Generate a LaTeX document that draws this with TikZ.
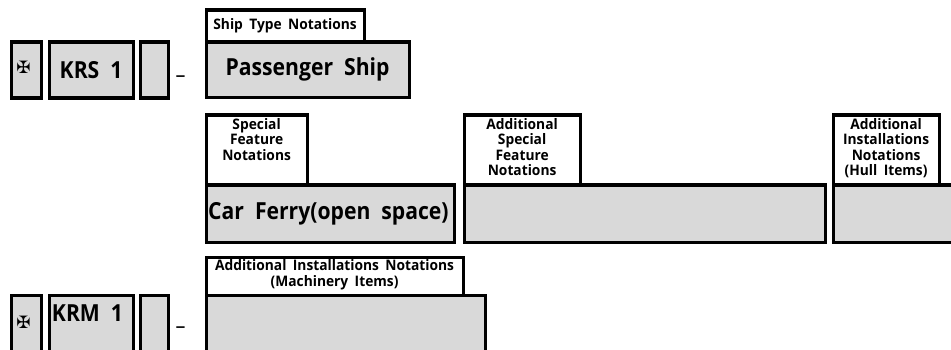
\documentclass[tikz,border=0pt]{standalone}
\usepackage{fontspec}
\newfontfamily\bigfont{Open Sans}[FakeStretch=0.9,WordSpace=2]
\newfontfamily\smallfont{Open Sans}[FakeStretch=0.95,WordSpace=1.8]
\newfontfamily\symfont{DejaVu Sans}
\newcommand\labelfontset{\smallfont\fontsize{14.5}{15.4}\selectfont\bfseries\lineskiplimit=-20pt\relax}
\definecolor{boxgray}{RGB}{217,217,217}
\begin{document}
\begin{tikzpicture}[x=1pt,y=-1pt,
  box/.style={draw=black, line width=3.2pt, fill=boxgray, rectangle, inner sep=0pt, anchor=north west},
  labbox/.style={draw=black, line width=3.2pt, fill=white, rectangle, inner sep=0pt, anchor=north west},
  big/.style={font=\bigfont\fontsize{23.5}{26}\selectfont\bfseries, inner sep=0pt},
  small/.style={font=\labelfontset, align=center, inner sep=0pt},
  sym/.style={font=\symfont\fontsize{17}{17}\selectfont, inner sep=0pt},
  dashmark/.style={font=\bigfont\fontsize{22}{22}\selectfont, inner sep=0pt}]
\useasboundingbox (0,0) rectangle (951,350);
\clip (0,0) rectangle (951,350);
% row 1
\node[box, minimum width=30pt, minimum height=56pt] (c1) at (9.5,40.5) {};
\node[sym] (x1) at (23.5,67) {✠};
\node[box, big, minimum width=84pt, minimum height=56pt] (krs) at (47.5,40.5) {KRS 1};
\node[box, minimum width=28pt, minimum height=56pt] (e1) at (138.5,40.5) {};
\node[dashmark] (d1) at (180.5,79.5) {–};
\node[box, big, minimum width=203pt, minimum height=55.5pt] (ps) at (204.5,40.5) {Passenger Ship};
\node[labbox, small, minimum width=158pt, minimum height=32pt] (stl) at (204.5,8.5) {Ship Type Notations};
% row 2
\node[labbox, minimum width=101pt, minimum height=70pt] (sfl) at (204.5,113.5) {};
\node[small, anchor=north] (sflt) at ([yshift=-4.5pt]sfl.north) {Special\\Feature\\Notations};
\node[box, minimum width=248pt, minimum height=57pt] (cf) at (204.5,183.5) {};
\node[big, anchor=west] (cft) at ([xshift=3.5pt]cf.west) {Car Ferry(open space)};
\node[labbox, minimum width=116pt, minimum height=70pt] (asl) at (462.5,113.5) {};
\node[small, anchor=north] (aslt) at ([yshift=-4.5pt]asl.north) {Additional\\Special\\Feature\\Notations};
\node[box, minimum width=361pt, minimum height=57pt] (asb) at (462.5,183.5) {};
\node[labbox, minimum width=106pt, minimum height=70pt] (ahl) at (831.5,113.5) {};
\node[small, anchor=north] (ahlt) at ([yshift=-4.5pt]ahl.north) {Additional\\Installations\\Notations\\(Hull Items)};
\node[box, minimum width=140pt, minimum height=57pt] (ahb) at (831.5,183.5) {};
% row 3
\node[labbox, minimum width=257pt, minimum height=38pt] (aml) at (204.5,255.5) {};
\node[small, anchor=north] (amlt) at ([yshift=-4pt]aml.north) {Additional Installations Notations\\(Machinery Items)};
\node[box, minimum width=279pt, minimum height=80pt] (amb) at (204.5,293.5) {};
\node[box, minimum width=30pt, minimum height=80pt] (c2) at (9.5,293.5) {};
\node[sym] (x2) at (23.5,322) {✠};
\node[box, minimum width=84pt, minimum height=80pt] (krm) at (47.5,293.5) {};
\node[big] (krmt) at (87.5,313.5) {KRM 1};
\node[box, minimum width=28pt, minimum height=80pt] (e2) at (138.5,293.5) {};
\node[dashmark] (d2) at (180.5,330) {–};
\end{tikzpicture}
\end{document}
